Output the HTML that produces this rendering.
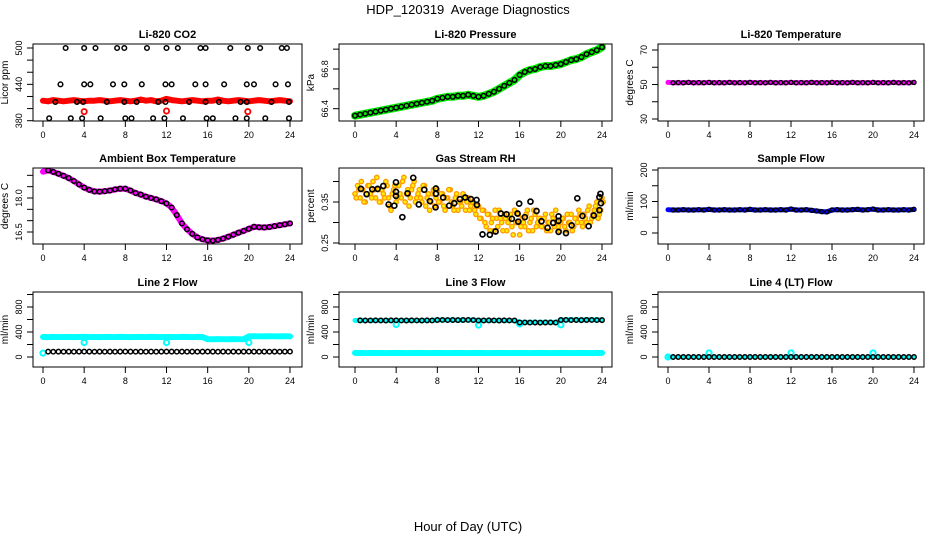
<!DOCTYPE html>
<html><head><meta charset="utf-8"><style>
html,body{margin:0;padding:0;background:#fff}
svg{display:block;font-family:"Liberation Sans",sans-serif}
</style></head><body>
<svg id="chart" width="936" height="540" viewBox="0 0 936 540" xmlns="http://www.w3.org/2000/svg">
<text x="468" y="14" text-anchor="middle" font-size="13">HDP_120319&#160; Average Diagnostics</text>
<text x="468" y="531" text-anchor="middle" font-size="13">Hour of Day (UTC)</text>
</svg>
<script>
// ---- data (half-hourly series: index i -> hour i*0.5) ----
const xTicks = [0,4,8,12,16,20,24];
const co2Red = [413,412,414,413,412,413,414,413,412,413,413,414,413,412,413,414,413,412,413,415,413,414,412,413,416,414,413,412,413,414,413,412,413,413,415,413,412,413,414,413,412,413,414,413,412,413,414,413,412];
const co2BlackHours = [2.2,4.0,5.1,7.2,7.9,10.1,12.0,13.1,15.3,15.8,18.2,19.9,21.1,23.2,23.7, 1.7,4.0,4.6,6.8,7.9,9.6,11.9,12.5,14.8,15.8,17.6,19.8,20.5,22.6,23.8, 1.2,3.3,3.9,6.2,7.9,9.1,11.2,11.9,14.2,15.8,17.1,19.2,19.8,22.2,23.9, 0.6,2.7,3.8,5.6,8.0,8.6,10.7,11.8,13.6,15.9,16.5,18.7,19.8,21.6,23.9];
const co2BlackVals = [500,500,500,500,500,500,500,500,500,500,500,500,500,500,500, 440,440,440,440,440,440,440,440,440,440,440,440,440,440,440, 411,411,411,411,411,411,411,411,411,411,411,411,411,411,411, 384,384,384,384,384,384,384,384,384,384,384,384,384,384,384];
const co2RedOutHours = [4.0,12.0,19.9];
const co2RedOutVals = [395,396,395];
const pressVals = [66.33,66.34,66.35,66.36,66.37,66.38,66.39,66.40,66.41,66.42,66.43,66.44,66.45,66.46,66.47,66.48,66.50,66.51,66.52,66.52,66.53,66.53,66.54,66.53,66.52,66.53,66.55,66.57,66.60,66.63,66.66,66.69,66.74,66.77,66.79,66.80,66.82,66.83,66.83,66.84,66.85,66.87,66.89,66.90,66.92,66.95,66.97,66.99,67.02];
const tempVals = [51.2,51.0,51.1,51.0,51.2,51.0,51.1,51.0,51.2,51.0,51.1,51.0,51.2,51.0,51.1,51.0,51.2,51.0,51.1,51.0,51.2,51.0,51.1,51.0,51.2,51.0,51.1,51.0,51.2,51.0,51.1,51.0,51.2,51.0,51.1,51.0,51.2,51.0,51.1,51.0,51.2,51.0,51.1,51.0,51.2,51.0,51.1,51.0,51.2];
const ambVals = [19.16,19.22,19.15,19.07,18.98,18.88,18.75,18.60,18.46,18.36,18.29,18.28,18.30,18.33,18.38,18.41,18.41,18.33,18.22,18.15,18.06,18.00,17.94,17.86,17.76,17.58,17.25,16.88,16.62,16.42,16.26,16.18,16.13,16.12,16.15,16.21,16.29,16.38,16.47,16.55,16.64,16.73,16.71,16.70,16.72,16.76,16.80,16.84,16.88];
// RH: quarter-hourly orange cloud (index i -> hour i*0.25)
const rhOrangeA = [.37,.39,.36,.38,.35,.39,.37,.40,.36, .38,.35,.37,.40,.36,.33,.38,.35, .39,.36,.41,.37,.34,.38,.40,.36, .38,.35,.39,.36,.33,.37,.34,.38, .35,.37,.33,.36,.38,.34,.36,.33, .35,.37,.33,.36,.34,.35,.32,.34, .31,.33,.29,.32,.30,.28,.31,.33, .30,.32,.28,.31,.29,.33,.30,.27, .31,.29,.33,.30,.28,.32,.30,.31, .29,.32,.30,.28,.31,.33,.29,.30, .31,.28,.30,.32,.29,.31,.33,.30, .32,.30,.34,.31,.33,.35,.32,.36];
const rhOrangeB = [.36,.38,.40,.35,.37,.39,.36,.38,.41, .35,.38,.36,.39,.34,.37,.39,.36, .37,.40,.35,.38,.36,.39,.35,.37, .36,.39,.34,.37,.35,.38,.36,.35, .37,.34,.36,.38,.35,.33,.37,.35, .34,.36,.35,.33,.35,.33,.34,.31, .33,.30,.32,.28,.31,.33,.29,.31, .28,.31,.30,.32,.27,.30,.32,.29, .30,.32,.28,.31,.33,.29,.31,.29, .31,.28,.30,.32,.29,.30,.28,.31, .29,.32,.30,.28,.31,.30,.32,.29, .31,.33,.30,.32,.34,.31,.33,.35];
const rhBlackHours = [0.58,1.13,1.68,2.2,2.75,3.27,3.82,3.98,3.98,3.98,4.6,5.11,5.66,6.2,6.73,7.28,7.83,7.86,7.86,8.57,9.15,9.64,10.19,10.71,11.26,11.81,11.84,12.39,13.1,13.66,14.17,14.72,15.24,15.79,15.86,15.95,16.5,17.05,17.64,18.12,18.71,19.26,19.78,19.78,19.78,20.5,21.05,21.6,22.1,22.7,23.2,23.75,23.75,23.85,23.9];
const rhBlackVals = [0.382,0.369,0.381,0.382,0.389,0.344,0.341,0.375,0.365,0.398,0.313,0.371,0.409,0.344,0.380,0.352,0.337,0.383,0.370,0.361,0.341,0.347,0.357,0.361,0.357,0.355,0.343,0.271,0.270,0.278,0.322,0.320,0.309,0.322,0.302,0.346,0.313,0.351,0.328,0.303,0.287,0.299,0.304,0.315,0.277,0.274,0.293,0.359,0.316,0.291,0.317,0.362,0.330,0.370,0.347];
const sampleVals = [74,73,73,74,73,73,74,73,75,73,73,74,73,73,74,73,75,73,73,74,73,73,74,73,76,73,73,74,72,70,68,67,73,74,73,73,74,75,73,74,76,73,73,74,73,73,74,73,75];
const l2Cyan = [320,318,322,319,320,321,318,320,322,319,320,318,321,320,319,322,320,318,321,320,319,322,320,318,321,320,319,322,320,318,321,320,285,284,286,285,284,286,285,284,330,332,331,330,333,331,330,332,331];
const l2Black = [85,86,85,86,85,86,85,86,87,86,85,86,85,86,85,86,87,86,85,86,85,86,85,86,87,86,85,86,85,86,85,86,87,86,85,86,85,86,85,86,87,86,85,86,85,86,85,86,87];
const l2CyanOutHours = [0,4,12,20];
const l2CyanOutVals = [62,232,232,232];
const l3Black = [585,586,584,585,586,585,584,586,587,585,584,586,585,584,586,585,592,593,591,592,590,592,593,591,585,584,586,585,584,586,585,584,552,553,551,552,550,552,553,551,592,593,591,592,590,592,593,591,590];
const l3Cyan = [585,584,586,585,583,585,586,584,585,586,584,585,583,585,586,584,592,591,593,592,590,591,593,592,584,585,583,585,586,584,585,583,556,555,557,556,555,557,556,555,595,594,596,595,594,596,595,594,595];
const l3CyanLow = [65,64,63,64,65,64,63,64,65,64,63,64,65,64,63,64,65,64,63,64,65,64,63,64,65,64,63,64,65,64,63,64,65,64,63,64,65,64,63,64,65,64,63,64,65,64,63,64,65];
const l3CyanOutHours = [4,12,16,20];
const l3CyanOutVals = [520,510,530,515];
const l4Black = [0,0,0,0,0,0,0,0,0,0,0,0,0,0,0,0,0,0,0,0,0,0,0,0,0,0,0,0,0,0,0,0,0,0,0,0,0,0,0,0,0,0,0,0,0,0,0,0,0];
const l4CyanOutHours = [0,4,12,20];
const l4CyanOutVals = [0,65,65,65];

// ---- layout ----
const NS = "http://www.w3.org/2000/svg";
const svg = document.getElementById('chart');
const cols = [{l:33,r:302,x0:43,x24:290},{l:339,r:612,x0:355,x24:602},{l:658,r:924,x0:668,x24:914}];
const rows = [{t:44,b:121},{t:168,b:244},{t:292,b:367}];
function mk(tag,parent){const e=document.createElementNS(NS,tag);parent.appendChild(e);return e;}
function attr(e,o){for(const k in o)e.setAttribute(k,o[k]);return e;}
function half(v){return v.map((_,i)=>i*0.5);}
function quarter(v){return v.map((_,i)=>i*0.25);}

function panel(cfg){
  const c=cols[cfg.col], r=rows[cfg.row];
  const g=mk('g',svg);
  
  
  const xs=h=>c.x0+h*(c.x24-c.x0)/24;
  const ys=v=>cfg.py1+(v-cfg.v1)*(cfg.py2-cfg.py1)/(cfg.v2-cfg.v1);
  const clipId='clip'+cfg.col+cfg.row;
  const cp=attr(mk('clipPath',g),{id:clipId});
  attr(mk('rect',cp),{x:c.l,y:r.t,width:c.r-c.l,height:r.b-r.t});
  const plot=mk('g',g);
  plot.setAttribute('clip-path','url(#'+clipId+')');
  
  
  const box=attr(mk('rect',g),{x:c.l,y:r.t,width:c.r-c.l,height:r.b-r.t,fill:'none',stroke:'#000','stroke-width':1});
  
  
  const title=attr(mk('text',g),{x:(c.l+c.r)/2,y:r.t-6,'text-anchor':'middle','font-size':11,'font-weight':'bold'});
  title.textContent=cfg.title;
  
  
  const xa=mk('g',g);
  
  
  attr(mk('line',xa),{x1:xs(0),x2:xs(24),y1:r.b,y2:r.b,stroke:'#000'});
  xTicks.forEach(t=>{
    const tk=attr(mk('line',xa),{x1:xs(t),x2:xs(t),y1:r.b,y2:r.b+6,stroke:'#000'});
    
    
    const lb=attr(mk('text',xa),{x:xs(t),y:r.b+17,'text-anchor':'middle','font-size':9});
    lb.textContent=t;
    
    
  });
  const ya=mk('g',g);
  
  
  const tks=cfg.ticks;
  attr(mk('line',ya),{x1:c.l,x2:c.l,y1:ys(tks[0]),y2:ys(tks[tks.length-1]),stroke:'#000'});
  tks.forEach(t=>{
    const tk=attr(mk('line',ya),{x1:c.l-6,x2:c.l,y1:ys(t),y2:ys(t),stroke:'#000'});
    
    
  });
  cfg.labels.forEach(t=>{
    const lx=c.l-11, ly=ys(t);
    const lb=attr(mk('text',ya),{x:lx,y:ly,'text-anchor':'middle','font-size':9,transform:'rotate(-90 '+lx+' '+ly+')'});
    lb.textContent=cfg.fmt?cfg.fmt(t):t;
    
    
  });
  const yl=c.l-25, ym=(r.t+r.b)/2;
  const yt=attr(mk('text',g),{x:yl,y:ym,'text-anchor':'middle','font-size':10,transform:'rotate(-90 '+yl+' '+ym+')'});
  yt.textContent=cfg.ylab;
  
  
  return {plot,xs,ys};
}
function band(P,hours,vals,color,w,name){
  const pl=attr(mk('polyline',P.plot),{points:hours.map((h,i)=>P.xs(h)+','+P.ys(vals[i])).join(' '),fill:'none',stroke:color,'stroke-width':w,'stroke-linejoin':'round','stroke-linecap':'round'});
  
  
}
function pts(P,hours,vals,color,rad,sw,name,fill){
  const g=mk('g',P.plot);
  
  
  hours.forEach((h,i)=>{
    const c=attr(mk('circle',g),{cx:P.xs(h),cy:P.ys(vals[i]),r:rad,fill:fill||'none',stroke:color,'stroke-width':sw});
    
    
  });
}
const BK='#000';

let P=panel({name:'co2-panel',col:0,row:0,title:'Li-820 CO2',ylab:'Licor ppm',v1:380,py1:120.7,v2:500,py2:48,ticks:[380,400,420,440,460,480,500],labels:[380,440,500]});
band(P,half(co2Red),co2Red,'#ff0000',6,'co2-red-band');
pts(P,co2RedOutHours,co2RedOutVals,'#ff0000',2.6,1.8,'co2-red-outliers');
pts(P,co2BlackHours,co2BlackVals,BK,2.3,1.5,'co2-black-points');

P=panel({name:'pressure-panel',col:1,row:0,title:'Li-820 Pressure',ylab:'kPa',v1:66.4,py1:108.7,v2:66.8,py2:69,ticks:[66.4,66.6,66.8,67.0],labels:[66.4,66.8],fmt:t=>t.toFixed(1)});
band(P,half(pressVals),pressVals,'#00ee00',8,'pressure-green-band');
pts(P,half(pressVals),pressVals,BK,2.3,1.5,'pressure-black-points');

P=panel({name:'li820-temperature-panel',col:2,row:0,title:'Li-820 Temperature',ylab:'degrees C',v1:30,py1:119,v2:70,py2:50,ticks:[30,40,50,60,70],labels:[30,50,70]});
band(P,half(tempVals),tempVals,'#ff00ff',5,'temperature-magenta-band');
pts(P,half(tempVals).slice(1),tempVals.slice(1),BK,2.0,1.4,'temperature-black-points');

P=panel({name:'ambient-temperature-panel',col:0,row:1,title:'Ambient Box Temperature',ylab:'degrees C',v1:16.5,py1:232,v2:18.0,py2:198,ticks:[16.5,17.0,17.5,18.0,18.5,19.0],labels:[16.5,18.0],fmt:t=>t.toFixed(1)});
band(P,half(ambVals),ambVals,'#ff00ff',6,'ambient-magenta-band');
pts(P,half(ambVals).slice(1),ambVals.slice(1),BK,2.3,1.5,'ambient-black-points');

P=panel({name:'rh-panel',col:1,row:1,title:'Gas Stream RH',ylab:'percent',v1:0.25,py1:243,v2:0.35,py2:202,ticks:[0.25,0.30,0.35,0.40],labels:[0.25,0.35],fmt:t=>t.toFixed(2)});
pts(P,quarter(rhOrangeA),rhOrangeA,'#ff9900',2.2,1.3,'rh-orange-points-a','#ffee00');
pts(P,quarter(rhOrangeB).map(h=>h+0.12),rhOrangeB,'#ff9900',2.2,1.3,'rh-orange-points-b','#ffee00');
pts(P,rhBlackHours,rhBlackVals,BK,2.5,1.7,'rh-black-points');

P=panel({name:'sample-flow-panel',col:2,row:1,title:'Sample Flow',ylab:'ml/min',v1:0,py1:233,v2:200,py2:170,ticks:[0,50,100,150,200],labels:[0,100,200]});
band(P,half(sampleVals),sampleVals,'#0000ff',5,'sample-flow-blue-band');
pts(P,half(sampleVals).slice(1),sampleVals.slice(1),BK,2.0,1.4,'sample-flow-black-points');

const flowTicks=[0,200,400,600,800,1000], flowLabels=[0,400,800];
P=panel({name:'line2-flow-panel',col:0,row:2,title:'Line 2 Flow',ylab:'ml/min',v1:0,py1:357,v2:800,py2:307,ticks:flowTicks,labels:flowLabels});
band(P,half(l2Cyan),l2Cyan,'#00ffff',6,'line2-cyan-band');
pts(P,l2CyanOutHours,l2CyanOutVals,'#00ffff',2.6,2,'line2-cyan-outliers');
pts(P,half(l2Black).slice(1),l2Black.slice(1),BK,2.2,1.5,'line2-black-points');

P=panel({name:'line3-flow-panel',col:1,row:2,title:'Line 3 Flow',ylab:'ml/min',v1:0,py1:357,v2:800,py2:307,ticks:flowTicks,labels:flowLabels});
band(P,half(l3CyanLow),l3CyanLow,'#00ffff',6,'line3-cyan-low-band');
band(P,half(l3Cyan),l3Cyan,'#00ffff',5,'line3-cyan-band');
pts(P,l3CyanOutHours,l3CyanOutVals,'#00ffff',2.6,2,'line3-cyan-outliers');
pts(P,half(l3Black).slice(1),l3Black.slice(1),BK,2.2,1.5,'line3-black-points');

P=panel({name:'line4-flow-panel',col:2,row:2,title:'Line 4 (LT) Flow',ylab:'ml/min',v1:0,py1:357,v2:800,py2:307,ticks:flowTicks,labels:flowLabels});
band(P,half(l4Black),l4Black,'#00ffff',3,'line4-cyan-band');
pts(P,l4CyanOutHours,l4CyanOutVals,'#00ffff',2.6,2,'line4-cyan-outliers');
pts(P,half(l4Black).slice(1),l4Black.slice(1),BK,2.2,1.5,'line4-black-points');
</script>
</body></html>
